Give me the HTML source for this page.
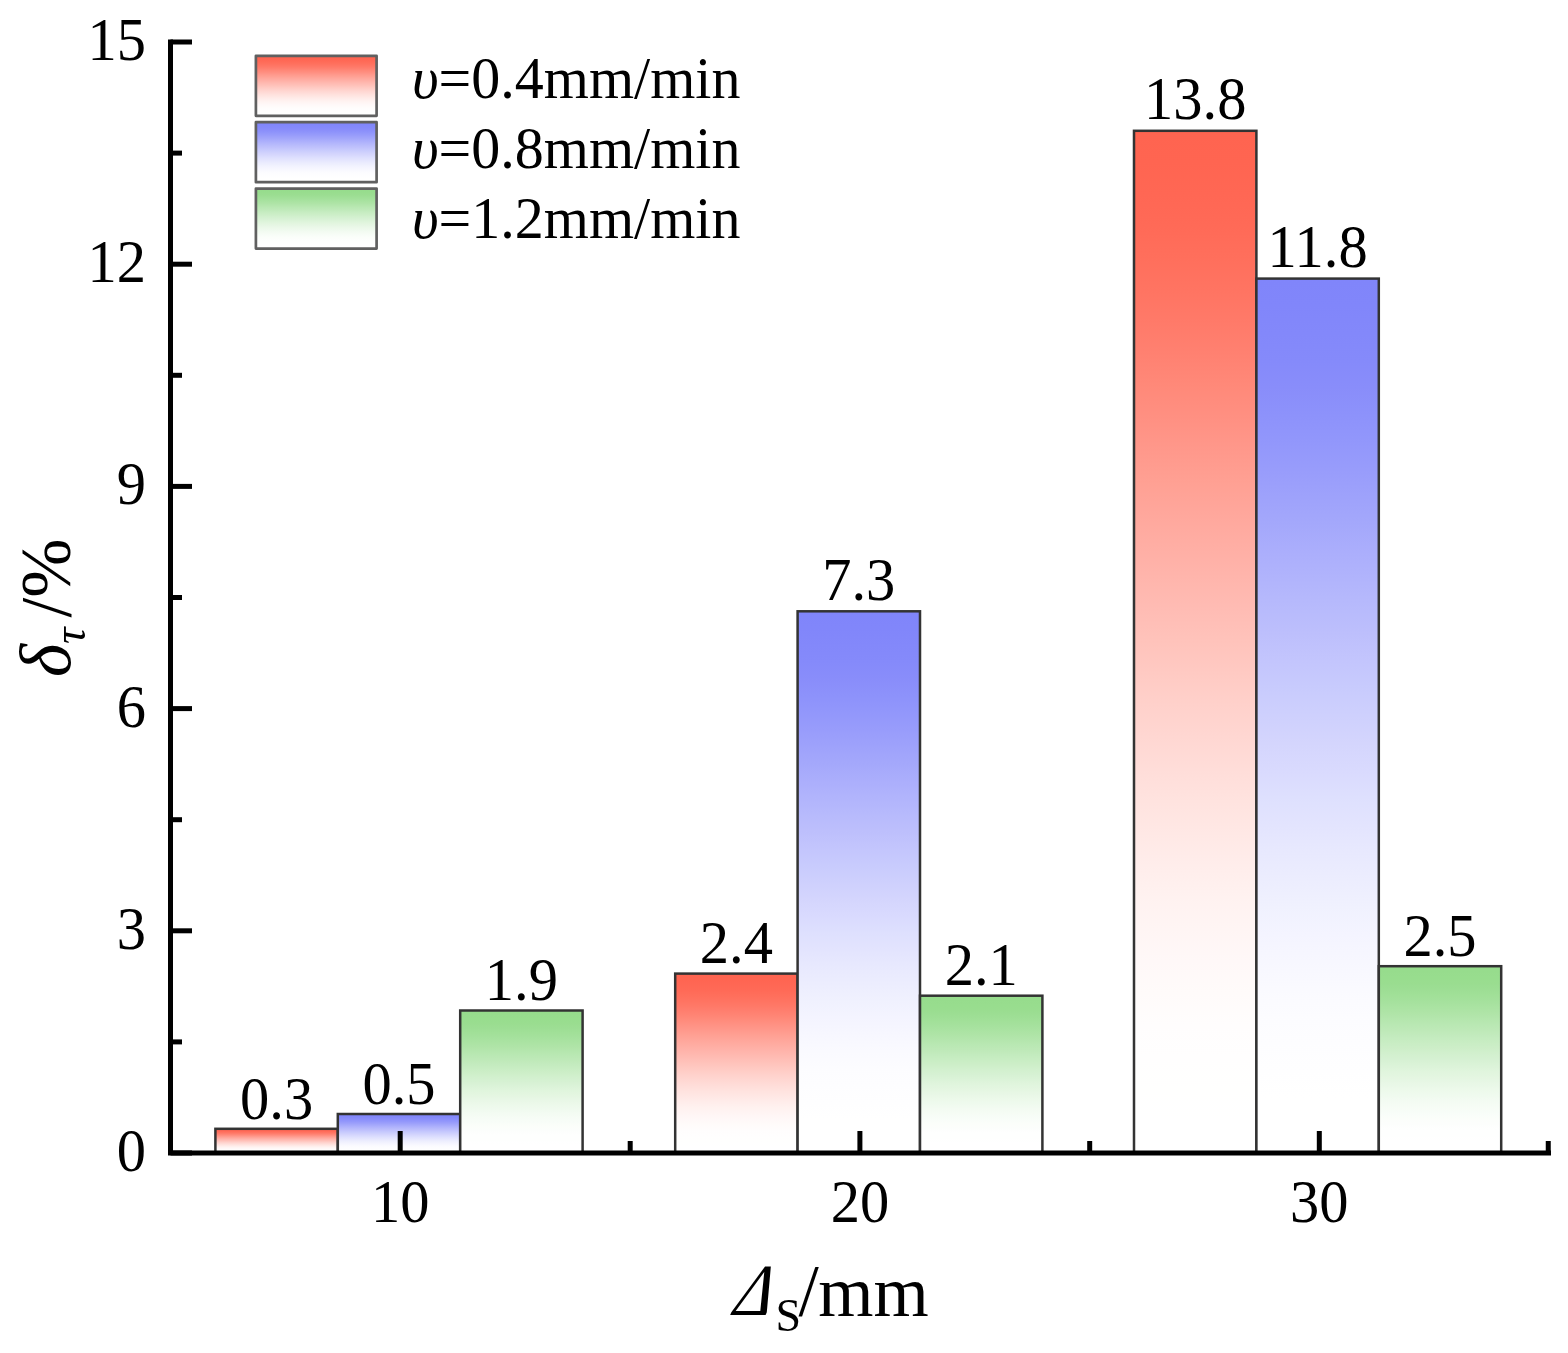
<!DOCTYPE html>
<html lang="en"><head><meta charset="utf-8"><title>Bar chart</title>
<style>
html,body{margin:0;padding:0;background:#fff;}
svg{display:block;filter:blur(0.6px);font-family:"Liberation Serif","Times New Roman",serif;}
text{fill:#000;}
</style></head><body>
<svg width="1568" height="1353" viewBox="0 0 1568 1353">
<defs>
<linearGradient id="gr" x1="0" y1="0" x2="0" y2="1"><stop offset="0.0000" stop-color="rgb(255,100,80)"/><stop offset="0.0312" stop-color="rgb(255,101,81)"/><stop offset="0.0625" stop-color="rgb(255,103,84)"/><stop offset="0.0938" stop-color="rgb(255,106,87)"/><stop offset="0.1250" stop-color="rgb(255,111,92)"/><stop offset="0.1562" stop-color="rgb(255,116,98)"/><stop offset="0.1875" stop-color="rgb(255,122,105)"/><stop offset="0.2188" stop-color="rgb(255,129,113)"/><stop offset="0.2500" stop-color="rgb(255,137,121)"/><stop offset="0.2812" stop-color="rgb(255,144,130)"/><stop offset="0.3125" stop-color="rgb(255,152,139)"/><stop offset="0.3438" stop-color="rgb(255,160,147)"/><stop offset="0.3750" stop-color="rgb(255,167,156)"/><stop offset="0.4062" stop-color="rgb(255,174,164)"/><stop offset="0.4375" stop-color="rgb(255,181,172)"/><stop offset="0.4688" stop-color="rgb(255,188,180)"/><stop offset="0.5000" stop-color="rgb(255,195,187)"/><stop offset="0.5312" stop-color="rgb(255,202,195)"/><stop offset="0.5625" stop-color="rgb(255,209,203)"/><stop offset="0.5938" stop-color="rgb(255,215,210)"/><stop offset="0.6250" stop-color="rgb(255,221,217)"/><stop offset="0.6562" stop-color="rgb(255,227,223)"/><stop offset="0.6875" stop-color="rgb(255,232,229)"/><stop offset="0.7188" stop-color="rgb(255,237,235)"/><stop offset="0.7500" stop-color="rgb(255,242,240)"/><stop offset="0.7812" stop-color="rgb(255,245,244)"/><stop offset="0.8125" stop-color="rgb(255,248,248)"/><stop offset="0.8438" stop-color="rgb(255,251,250)"/><stop offset="0.8750" stop-color="rgb(255,253,253)"/><stop offset="0.9062" stop-color="rgb(255,254,254)"/><stop offset="0.9375" stop-color="rgb(255,255,254)"/><stop offset="0.9688" stop-color="rgb(255,255,255)"/><stop offset="1.0000" stop-color="rgb(255,255,255)"/></linearGradient>
<linearGradient id="gb" x1="0" y1="0" x2="0" y2="1"><stop offset="0.0000" stop-color="rgb(128,133,250)"/><stop offset="0.0312" stop-color="rgb(129,134,250)"/><stop offset="0.0625" stop-color="rgb(131,136,250)"/><stop offset="0.0938" stop-color="rgb(133,138,250)"/><stop offset="0.1250" stop-color="rgb(137,141,250)"/><stop offset="0.1562" stop-color="rgb(141,146,251)"/><stop offset="0.1875" stop-color="rgb(146,151,251)"/><stop offset="0.2188" stop-color="rgb(152,156,251)"/><stop offset="0.2500" stop-color="rgb(158,162,251)"/><stop offset="0.2812" stop-color="rgb(164,168,251)"/><stop offset="0.3125" stop-color="rgb(171,174,252)"/><stop offset="0.3438" stop-color="rgb(177,180,252)"/><stop offset="0.3750" stop-color="rgb(183,186,252)"/><stop offset="0.4062" stop-color="rgb(189,191,252)"/><stop offset="0.4375" stop-color="rgb(195,197,253)"/><stop offset="0.4688" stop-color="rgb(200,203,253)"/><stop offset="0.5000" stop-color="rgb(206,208,253)"/><stop offset="0.5312" stop-color="rgb(212,213,253)"/><stop offset="0.5625" stop-color="rgb(217,218,254)"/><stop offset="0.5938" stop-color="rgb(222,224,254)"/><stop offset="0.6250" stop-color="rgb(227,228,254)"/><stop offset="0.6562" stop-color="rgb(232,233,254)"/><stop offset="0.6875" stop-color="rgb(236,237,254)"/><stop offset="0.7188" stop-color="rgb(240,241,254)"/><stop offset="0.7500" stop-color="rgb(244,244,255)"/><stop offset="0.7812" stop-color="rgb(247,247,255)"/><stop offset="0.8125" stop-color="rgb(250,250,255)"/><stop offset="0.8438" stop-color="rgb(252,252,255)"/><stop offset="0.8750" stop-color="rgb(253,253,255)"/><stop offset="0.9062" stop-color="rgb(254,254,255)"/><stop offset="0.9375" stop-color="rgb(255,255,255)"/><stop offset="0.9688" stop-color="rgb(255,255,255)"/><stop offset="1.0000" stop-color="rgb(255,255,255)"/></linearGradient>
<linearGradient id="gg" x1="0" y1="0" x2="0" y2="1"><stop offset="0.0000" stop-color="rgb(150,220,140)"/><stop offset="0.0312" stop-color="rgb(151,220,141)"/><stop offset="0.0625" stop-color="rgb(152,221,142)"/><stop offset="0.0938" stop-color="rgb(154,221,144)"/><stop offset="0.1250" stop-color="rgb(157,222,148)"/><stop offset="0.1562" stop-color="rgb(161,224,152)"/><stop offset="0.1875" stop-color="rgb(165,225,157)"/><stop offset="0.2188" stop-color="rgb(170,227,162)"/><stop offset="0.2500" stop-color="rgb(175,228,167)"/><stop offset="0.2812" stop-color="rgb(180,230,173)"/><stop offset="0.3125" stop-color="rgb(185,232,179)"/><stop offset="0.3438" stop-color="rgb(190,233,184)"/><stop offset="0.3750" stop-color="rgb(195,235,190)"/><stop offset="0.4062" stop-color="rgb(200,237,195)"/><stop offset="0.4375" stop-color="rgb(205,238,200)"/><stop offset="0.4688" stop-color="rgb(210,240,206)"/><stop offset="0.5000" stop-color="rgb(214,241,211)"/><stop offset="0.5312" stop-color="rgb(219,243,216)"/><stop offset="0.5625" stop-color="rgb(224,245,221)"/><stop offset="0.5938" stop-color="rgb(228,246,225)"/><stop offset="0.6250" stop-color="rgb(232,247,230)"/><stop offset="0.6562" stop-color="rgb(236,249,234)"/><stop offset="0.6875" stop-color="rgb(239,250,238)"/><stop offset="0.7188" stop-color="rgb(243,251,242)"/><stop offset="0.7500" stop-color="rgb(246,252,245)"/><stop offset="0.7812" stop-color="rgb(248,253,248)"/><stop offset="0.8125" stop-color="rgb(251,254,250)"/><stop offset="0.8438" stop-color="rgb(252,254,252)"/><stop offset="0.8750" stop-color="rgb(254,255,254)"/><stop offset="0.9062" stop-color="rgb(254,255,254)"/><stop offset="0.9375" stop-color="rgb(255,255,255)"/><stop offset="0.9688" stop-color="rgb(255,255,255)"/><stop offset="1.0000" stop-color="rgb(255,255,255)"/></linearGradient>
</defs>
<rect width="1568" height="1353" fill="#fff"/>

<rect x="215.4" y="1128.8" width="122.4" height="24.2" fill="url(#gr)" stroke="#333" stroke-width="2.5"/>
<text transform="translate(276.6 1118.7) scale(1.0 1.035)" font-size="58.5" text-anchor="middle">0.3</text>
<rect x="337.8" y="1114.0" width="122.4" height="39.0" fill="url(#gb)" stroke="#333" stroke-width="2.5"/>
<text transform="translate(399.0 1103.9) scale(1.0 1.035)" font-size="58.5" text-anchor="middle">0.5</text>
<rect x="460.2" y="1010.5" width="122.4" height="142.5" fill="url(#gg)" stroke="#333" stroke-width="2.5"/>
<text transform="translate(521.4 1000.2) scale(1.0 1.035)" font-size="58.5" text-anchor="middle">1.9</text>
<rect x="675.2" y="973.6" width="122.4" height="179.4" fill="url(#gr)" stroke="#333" stroke-width="2.5"/>
<text transform="translate(736.4 963.1) scale(1.0 1.035)" font-size="58.5" text-anchor="middle">2.4</text>
<rect x="797.6" y="611.3" width="122.4" height="541.7" fill="url(#gb)" stroke="#333" stroke-width="2.5"/>
<text transform="translate(858.8 600.2) scale(1.0 1.035)" font-size="58.5" text-anchor="middle">7.3</text>
<rect x="920.0" y="995.7" width="122.4" height="157.3" fill="url(#gg)" stroke="#333" stroke-width="2.5"/>
<text transform="translate(981.2 985.4) scale(1.0 1.035)" font-size="58.5" text-anchor="middle">2.1</text>
<rect x="1134.0" y="130.8" width="122.4" height="1022.2" fill="url(#gr)" stroke="#333" stroke-width="2.5"/>
<text transform="translate(1195.2 118.7) scale(1.0 1.035)" font-size="58.5" text-anchor="middle">13.8</text>
<rect x="1256.4" y="278.6" width="122.4" height="874.4" fill="url(#gb)" stroke="#333" stroke-width="2.5"/>
<text transform="translate(1317.6 266.9) scale(1.0 1.035)" font-size="58.5" text-anchor="middle">11.8</text>
<rect x="1378.8" y="966.2" width="122.4" height="186.8" fill="url(#gg)" stroke="#333" stroke-width="2.5"/>
<text transform="translate(1440.0 955.7) scale(1.0 1.035)" font-size="58.5" text-anchor="middle">2.5</text>
<path d="M170.5 39.5 V1153.0 H1551" fill="none" stroke="#000" stroke-width="5.0" stroke-linejoin="miter"/>
<line x1="170.5" x2="192" y1="42.0" y2="42.0" stroke="#000" stroke-width="5.0"/>
<line x1="170.5" x2="182" y1="153.1" y2="153.1" stroke="#000" stroke-width="5.0"/>
<text transform="translate(146.0 59.9) scale(1.0 1.035)" font-size="58.5" text-anchor="end">15</text>
<line x1="170.5" x2="192" y1="264.2" y2="264.2" stroke="#000" stroke-width="5.0"/>
<line x1="170.5" x2="182" y1="375.3" y2="375.3" stroke="#000" stroke-width="5.0"/>
<text transform="translate(146.0 282.1) scale(1.0 1.035)" font-size="58.5" text-anchor="end">12</text>
<line x1="170.5" x2="192" y1="486.4" y2="486.4" stroke="#000" stroke-width="5.0"/>
<line x1="170.5" x2="182" y1="597.5" y2="597.5" stroke="#000" stroke-width="5.0"/>
<text transform="translate(146.0 504.3) scale(1.0 1.035)" font-size="58.5" text-anchor="end">9</text>
<line x1="170.5" x2="192" y1="708.6" y2="708.6" stroke="#000" stroke-width="5.0"/>
<line x1="170.5" x2="182" y1="819.7" y2="819.7" stroke="#000" stroke-width="5.0"/>
<text transform="translate(146.0 726.5) scale(1.0 1.035)" font-size="58.5" text-anchor="end">6</text>
<line x1="170.5" x2="192" y1="930.8" y2="930.8" stroke="#000" stroke-width="5.0"/>
<line x1="170.5" x2="182" y1="1041.9" y2="1041.9" stroke="#000" stroke-width="5.0"/>
<text transform="translate(146.0 948.7) scale(1.0 1.035)" font-size="58.5" text-anchor="end">3</text>
<line x1="170.5" x2="192" y1="1153.0" y2="1153.0" stroke="#000" stroke-width="5.0"/>
<text transform="translate(146.0 1170.9) scale(1.0 1.035)" font-size="58.5" text-anchor="end">0</text>
<line x1="400.2" x2="400.2" y1="1153.0" y2="1131" stroke="#000" stroke-width="5.0"/>
<text transform="translate(400.2 1221.8) scale(1.0 1.035)" font-size="58.5" text-anchor="middle">10</text>
<line x1="859.9" x2="859.9" y1="1153.0" y2="1131" stroke="#000" stroke-width="5.0"/>
<text transform="translate(859.9 1221.8) scale(1.0 1.035)" font-size="58.5" text-anchor="middle">20</text>
<line x1="1319.3" x2="1319.3" y1="1153.0" y2="1131" stroke="#000" stroke-width="5.0"/>
<text transform="translate(1319.3 1221.8) scale(1.0 1.035)" font-size="58.5" text-anchor="middle">30</text>
<line x1="630.2" x2="630.2" y1="1153.0" y2="1141" stroke="#000" stroke-width="5.0"/>
<line x1="1089.7" x2="1089.7" y1="1153.0" y2="1141" stroke="#000" stroke-width="5.0"/>
<line x1="1548.25" x2="1548.25" y1="1153.0" y2="1141" stroke="#000" stroke-width="5.0"/>
<rect x="255.9" y="55.8" width="120.7" height="60" fill="url(#gr)" stroke="#606060" stroke-width="2.7" stroke-linejoin="round"/>
<text transform="translate(412.0 97.5) scale(1.0 1.02)" font-size="58" text-anchor="start"><tspan font-style="italic">υ</tspan>=0.4mm/min</text>
<rect x="255.9" y="122.2" width="120.7" height="60" fill="url(#gb)" stroke="#606060" stroke-width="2.7" stroke-linejoin="round"/>
<text transform="translate(412.0 167.7) scale(1.0 1.02)" font-size="58" text-anchor="start"><tspan font-style="italic">υ</tspan>=0.8mm/min</text>
<rect x="255.9" y="188.6" width="120.7" height="60" fill="url(#gg)" stroke="#606060" stroke-width="2.7" stroke-linejoin="round"/>
<text transform="translate(412.0 237.9) scale(1.0 1.02)" font-size="58" text-anchor="start"><tspan font-style="italic">υ</tspan>=1.2mm/min</text>
<text transform="matrix(0.88 0 -0.434 1.035 727.7 1315.2)" font-size="71">Δ</text>
<text x="775.5" y="1330.5" font-size="46">S</text>
<text x="798.6" y="1316.2" font-size="73">/</text>
<text x="818.3" y="1316.2" font-size="71">mm</text>
<text transform="translate(70,677) rotate(-90)" font-size="71"><tspan font-style="italic">δ</tspan><tspan font-size="46" dy="14.5" font-style="italic">τ</tspan><tspan dy="-14.5" dx="10">/%</tspan></text>
</svg></body></html>
